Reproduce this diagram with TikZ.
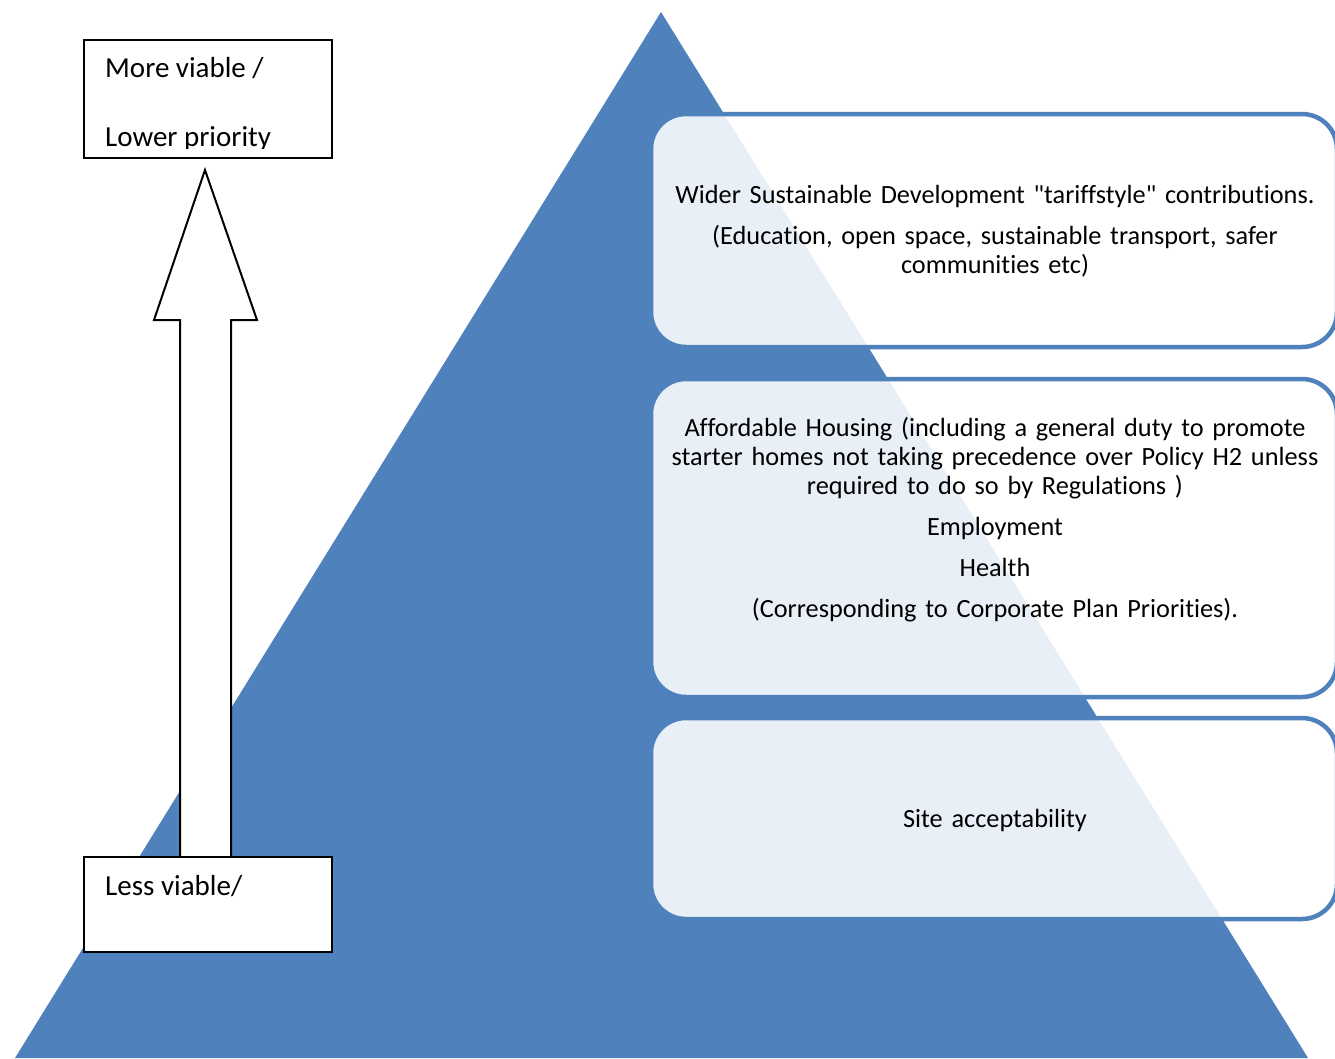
\documentclass[tikz,border=0pt]{standalone}
\usepackage{fontspec}
\setmainfont{Carlito}[Ligatures={NoCommon,TeXOff}]
\definecolor{ofblue}{RGB}{79,129,189}
\tikzset{
  pyr/.style={fill=ofblue, draw=none},
  tierbox/.style={draw=ofblue, line width=4.5pt, fill=white, fill opacity=0.88, rounded corners=35pt},
  tiertext/.style={text width=680pt, align=center, anchor=base, inner sep=0pt, text=black,
     font=\fontsize{26.3}{29}\selectfont},
  leftbox/.style={draw=black, line width=2pt, fill=white},
  lefttext/.style={anchor=base west, inner sep=0pt, font=\fontsize{29}{34}\selectfont},
  blockarrow/.style={draw=black, line width=2pt, fill=white, line join=miter}
}
\begin{document}
\begin{tikzpicture}[x=1pt, y=-1pt]
\clip (0,0) rectangle (1335,1058);
\fill[white] (0,0) rectangle (1335,1058);
% pyramid
\fill[pyr] (661,12) -- (1308,1058) -- (15,1058) -- cycle;
% tier boxes
\path[tierbox] (651,114) rectangle (1337,347);
\path[tierbox] (651,379) rectangle (1337,697);
\path[tierbox] (651,718) rectangle (1337,919);
\node[tiertext] (t1) at (995,203) {Wider Sustainable Development "tariffstyle" contributions.\\[12pt]
(Education, open space, sustainable transport, safer\\communities etc)};
\node[tiertext] (t2) at (995,436) {Affordable Housing (including a general duty to promote\\
starter homes not taking precedence over Policy H2 unless\\
required to do so by Regulations )\\[12pt]
Employment\\[12pt]
Health\\[12pt]
(Corresponding to Corporate Plan Priorities).};
\node[tiertext] (t3) at (995,827) {Site acceptability};
% block arrow
\path[blockarrow] (180,857) -- (180,320) -- (154,320) -- (205,170) -- (257,320) -- (231,320) -- (231,857);
% left boxes
\path[leftbox] (84,40) rectangle (332,158);
\path[leftbox] (84,857) rectangle (332,952);
\node[lefttext] (more) at (105,77) {More viable /};
\begin{scope}
\clip (86,42) rectangle (330,148);
\node[lefttext] (lower) at (105,146) {Lower priority};
\end{scope}
\node[lefttext] (less) at (105,895) {Less viable/};
\end{tikzpicture}
\end{document}
